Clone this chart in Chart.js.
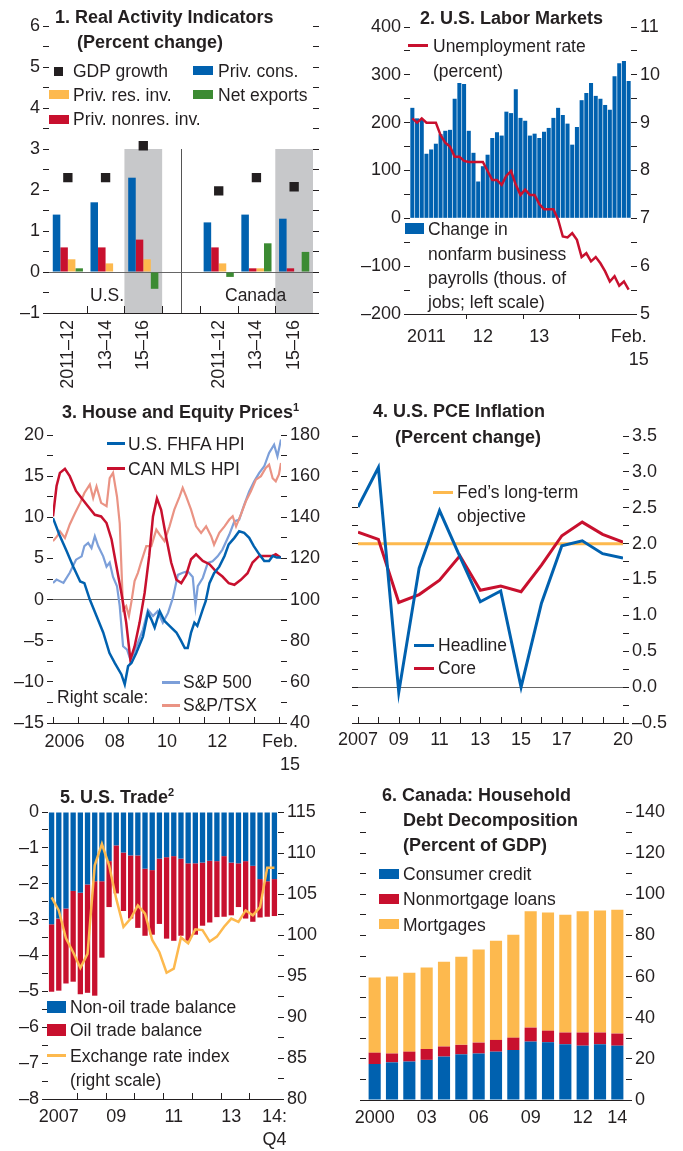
<!DOCTYPE html>
<html>
<head>
<meta charset="utf-8">
<script src="https://cdn.jsdelivr.net/npm/chart.js@4.4.1/dist/chart.umd.min.js"></script>
<style>
  body { margin: 0; background: #fff; width: 683px; height: 1151px; position: relative; overflow: hidden;
         font-family: "Liberation Sans", Arial, sans-serif; color: #231f20; }
  canvas { position: absolute; }
  .t { position: absolute; white-space: nowrap; font-size: 17.5px; line-height: 24px; }
  .b { font-weight: bold; font-size: 18px; }
  .sw { position: absolute; }
  .sup { font-size: 11px; position: relative; top: -7px; }
</style>
</head>
<body>
<canvas id="c1" width="341" height="390" style="left:0;top:0"></canvas>
<canvas id="c2" width="342" height="390" style="left:341px;top:0"></canvas>
<canvas id="c3" width="341" height="385" style="left:0;top:390px"></canvas>
<canvas id="c4" width="363" height="385" style="left:320px;top:390px"></canvas>
<canvas id="c5" width="341" height="376" style="left:0;top:775px"></canvas>
<canvas id="c6" width="342" height="376" style="left:341px;top:775px"></canvas>

<!-- panel 1 -->
<div class="t b" style="left:55px;top:5px">1. Real Activity Indicators</div>
<div class="t b" style="left:77px;top:30px">(Percent change)</div>
<div class="sw" style="left:54px;top:67px;width:9px;height:9px;background:#231f20"></div>
<div class="t" style="left:73px;top:59px">GDP growth</div>
<div class="sw" style="left:193px;top:66px;width:20px;height:9px;background:#0061af"></div>
<div class="t" style="left:218px;top:59px">Priv. cons.</div>
<div class="sw" style="left:49px;top:90px;width:20px;height:9px;background:#fdb94e"></div>
<div class="t" style="left:73px;top:83px">Priv. res. inv.</div>
<div class="sw" style="left:193px;top:90px;width:20px;height:9px;background:#3c8b33"></div>
<div class="t" style="left:218px;top:83px">Net exports</div>
<div class="sw" style="left:49px;top:115px;width:20px;height:9px;background:#c8102e"></div>
<div class="t" style="left:73px;top:107px">Priv. nonres. inv.</div>
<div class="t" style="left:90px;top:283px">U.S.</div>
<div class="t" style="left:225px;top:283px">Canada</div>

<!-- panel 2 -->
<div class="t b" style="left:420px;top:6px">2. U.S. Labor Markets</div>
<div class="sw" style="left:408px;top:44px;width:20px;height:3px;background:#c8102e"></div>
<div class="t" style="left:433px;top:34px">Unemployment rate</div>
<div class="t" style="left:433px;top:59px">(percent)</div>
<div class="sw" style="left:405px;top:223px;width:19px;height:11px;background:#0061af"></div>
<div class="t" style="left:428px;top:217px">Change in</div>
<div class="t" style="left:428px;top:242px">nonfarm business</div>
<div class="t" style="left:428px;top:266px">payrolls (thous. of</div>
<div class="t" style="left:428px;top:290px">jobs; left scale)</div>

<!-- panel 3 -->
<div class="t b" style="left:62px;top:400px">3. House and Equity Prices<span class="sup">1</span></div>
<div class="sw" style="left:107px;top:442px;width:18px;height:3px;background:#0061af"></div>
<div class="t" style="left:128px;top:432px">U.S. FHFA HPI</div>
<div class="sw" style="left:107px;top:467px;width:18px;height:3px;background:#c8102e"></div>
<div class="t" style="left:128px;top:457px">CAN MLS HPI</div>
<div class="t" style="left:57px;top:685px">Right scale:</div>
<div class="sw" style="left:162px;top:681px;width:18px;height:3px;background:#7c9fd9"></div>
<div class="t" style="left:183px;top:670px">S&amp;P 500</div>
<div class="sw" style="left:162px;top:704px;width:18px;height:3px;background:#ea9384"></div>
<div class="t" style="left:183px;top:693px">S&amp;P/TSX</div>

<!-- panel 4 -->
<div class="t b" style="left:373px;top:399px">4. U.S. PCE Inflation</div>
<div class="t b" style="left:395px;top:425px">(Percent change)</div>
<div class="sw" style="left:433px;top:491px;width:20px;height:3px;background:#fdb94e"></div>
<div class="t" style="left:457px;top:480px">Fed’s long-term</div>
<div class="t" style="left:457px;top:504px">objective</div>
<div class="sw" style="left:414px;top:644px;width:20px;height:3px;background:#0061af"></div>
<div class="t" style="left:438px;top:633px">Headline</div>
<div class="sw" style="left:414px;top:667px;width:20px;height:3px;background:#c8102e"></div>
<div class="t" style="left:438px;top:656px">Core</div>

<!-- panel 5 -->
<div class="t b" style="left:60px;top:785px">5. U.S. Trade<span class="sup">2</span></div>
<div class="sw" style="left:47px;top:1001px;width:19px;height:12px;background:#0061af"></div>
<div class="t" style="left:70px;top:995px">Non-oil trade balance</div>
<div class="sw" style="left:47px;top:1024px;width:19px;height:12px;background:#c8102e"></div>
<div class="t" style="left:70px;top:1018px">Oil trade balance</div>
<div class="sw" style="left:47px;top:1054px;width:19px;height:3px;background:#fdb94e"></div>
<div class="t" style="left:70px;top:1044px">Exchange rate index</div>
<div class="t" style="left:70px;top:1068px">(right scale)</div>

<!-- panel 6 -->
<div class="t b" style="left:382px;top:783px">6. Canada: Household</div>
<div class="t b" style="left:403px;top:808px">Debt Decomposition</div>
<div class="t b" style="left:403px;top:833px">(Percent of GDP)</div>
<div class="sw" style="left:379px;top:869px;width:20px;height:10px;background:#0061af"></div>
<div class="t" style="left:403px;top:862px">Consumer credit</div>
<div class="sw" style="left:379px;top:894px;width:20px;height:10px;background:#c8102e"></div>
<div class="t" style="left:403px;top:887px">Nonmortgage loans</div>
<div class="sw" style="left:379px;top:919px;width:20px;height:10px;background:#fdb94e"></div>
<div class="t" style="left:403px;top:913px">Mortgages</div>

<script>
// ---- data ----
// 1. Real activity
const p1Cats = ['2011–12', '13–14', '15–16', '', '2011–12', '13–14', '15–16'];
const p1Gdp = [2.3, 2.3, 3.08, null, 1.98, 2.3, 2.08];
const p1Cons = [1.4, 1.7, 2.3, null, 1.21, 1.4, 1.3];
const p1NonRes = [0.6, 0.6, 0.79, null, 0.6, 0.09, 0.09];
const p1Res = [0.31, 0.21, 0.31, null, 0.21, 0.09, 0];
const p1NetExp = [0.09, 0, -0.41, null, -0.12, 0.7, 0.49];

// 2. Labor markets, monthly from Jan 2011
const p2Payrolls = [231, 209, 207, 135, 144, 156, 176, 183, 185, 250, 283, 281, 183, 137, 77, 109, 133, 168, 180, 173,
  223, 220, 270, 210, 204, 173, 177, 168, 181, 189, 210, 231, 216, 198, 154, 191, 247, 262, 283, 256,
  250, 237, 227, 297, 324, 329, 287];
const p2Unemp = [9.09, 9.0, 9.09, 9.0, 9.0, 9.0, 8.74, 8.58, 8.5, 8.29, 8.29, 8.2, 8.18, 8.18, 8.18, 8.18, 7.99, 7.8, 7.8, 7.7,
  7.89, 7.99, 7.7, 7.49, 7.6, 7.49, 7.49, 7.3, 7.19, 7.19, 7.19, 6.97, 6.62, 6.6, 6.69, 6.55, 6.19, 6.27, 6.1, 6.19,
  6.06, 5.89, 5.68, 5.79, 5.59, 5.68, 5.51];
const p2TickLabels = { 3: '2011', 15: '12', 27: '13', 46: ['Feb.', '    15'] };
const p2YearTicks = [11.5, 23.5, 35.5];

// 3. House and equity prices (x = months since Jan 2006)
const fhfaM = [0, 3, 6.5, 9.7, 13, 15, 17.6, 20.8, 24, 27, 29.5, 32.7, 34.3, 35.9, 37.5, 39.8, 43, 45.4, 47, 48.6, 51, 53.3,
  55.7, 59, 61, 63, 64.4, 66, 67.6, 69, 71.6, 73, 74.8, 77, 79.5, 82, 84, 86.7, 89, 91.4, 93.8, 96, 98.6, 101, 103.3, 105, 107, 109];
const fhfaV = [9.9, 7.9, 5.9, 4.0, 2.2, 2.0, 0, -2, -4, -6.5, -7.7, -9.1, -10.3, -8.1, -7.7, -6.5, -4.5, -1.6, -2.4, -3.4, -1.4, -2.6,
  -3.2, -4.0, -4.9, -5.9, -5.9, -4.0, -2.8, -3.2, -1.2, -0.2, 2.0, 3.2, 4.0, 5.3, 6.7, 7.5, 8.3, 8.1, 7.5, 6.5, 5.5, 4.7, 4.7, 5.3, 5.1, 5.1];
const mlsM = [0, 1.7, 3.3, 5.7, 8, 11, 13.7, 16.8, 20, 23, 25.6, 28, 30, 32.7, 35, 37, 39, 41.4, 43.8, 46, 47.8, 49.7, 51.7, 54,
  56.5, 59, 61.3, 63.7, 66, 68.4, 71.6, 74.8, 78, 81, 84, 86.7, 89.8, 93, 95.4, 98.6, 101.7, 105, 106.5, 109];
const mlsV = [10.1, 13.8, 15.4, 15.9, 15.0, 13.2, 12.3, 11.3, 10.3, 10.1, 9.3, 7.3, 4.5, 0.8, -2.8, -7.3, -5.7, -2.8, 0.8, 5.3, 10.1, 12.3, 10.9, 7.7,
  4.5, 2.4, 2.0, 3.0, 4.9, 5.5, 4.7, 4.3, 3.4, 2.8, 2.0, 1.8, 2.4, 3.2, 4.5, 5.3, 5.3, 5.3, 5.5, 5.1];
const sp500M = [0, 1.7, 5, 8, 11, 13.7, 15, 16.8, 18.4, 20, 21.6, 24, 25.6, 27.1, 28.7, 30.6, 31.9, 33.5, 35.4, 37, 38.6, 40.6, 43, 45.4,
  47.8, 50, 52.5, 55, 57.3, 59.7, 62, 64.4, 66.8, 68.1, 69.2, 71.6, 74, 76.3, 78.7, 81, 84.3, 86.7, 89, 91.4, 93.8, 96.2, 98.6, 101, 103.3, 105.7, 107.3, 109];
const sp500V = [108.1, 109.7, 108.1, 113, 119.4, 121, 126, 127.5, 125, 130.8, 126, 121, 116, 118, 111, 106.5, 96.8, 77.3, 75.7, 70.8, 74, 79, 85.4, 95,
  92, 94.3, 88.7, 93.5, 100.8, 112, 113, 113.8, 111, 96.8, 106.5, 110.5, 117.8, 118.6, 121, 124.3, 131.6, 138, 138.9, 146, 152.6, 157.5, 161.6, 164.8, 171.3, 175.3, 169.7, 177.8];
const tsxM = [0, 2, 3.3, 5.7, 8, 10.5, 13, 15, 17.6, 19.2, 20.8, 23, 25.6, 27.1, 28.7, 30.6, 31.9, 33.5, 35, 36.3, 37.5, 39, 40.6, 42, 44.6, 47,
  49.4, 51, 53.3, 55.7, 58, 60.5, 62, 63.7, 66, 68.4, 70.8, 73.2, 75.6, 77, 79.5, 82, 84.3, 85.9, 87.5, 89.8, 92.2, 94.6, 97, 99.4, 101.7, 103.3, 105, 106.5, 108, 109];
const tsxV = [128.4, 130.8, 133.2, 130, 136.5, 142, 147, 151.8, 155.9, 149.4, 155, 147, 145.4, 159, 161.6, 150, 137, 95, 96.8, 92, 99, 109, 113, 117.8, 126, 126,
  134, 131.6, 128.4, 135.6, 143.7, 150, 154.3, 150, 143.7, 135.6, 132.4, 135.6, 130.8, 126.7, 132.4, 135.6, 138.9, 140.5, 135.6, 141.3, 147.8, 152.6, 158.3, 160, 164, 165.6, 159, 157.5, 160.8, 166.4];
const p3TickPos = [5.5, 29.5, 54.5, 78.5, 108.5];
const p3TickLabels = ['2006', '08', '10', '12', ['Feb.', '    15']];
const p3YearTicks = [0, 12, 24, 36, 48, 60, 72, 84, 96, 108];

// 4. PCE inflation
const p4Years = [2007, 2008, 2009, 2010, 2011, 2012, 2013, 2014, 2015, 2016, 2017, 2018, 2019, 2020];
const p4Headline = [2.51, 3.06, -0.07, 1.66, 2.46, 1.82, 1.19, 1.34, 0.0, 1.17, 1.97, 2.04, 1.86, 1.80];
const p4Core = [2.16, 2.06, 1.18, 1.29, 1.49, 1.83, 1.35, 1.41, 1.33, 1.70, 2.11, 2.30, 2.13, 2.02];
const p4FedYears = [2007, 2020];
const p4FedVals = [2.0, 2.0];
const p4TickPos = [2007, 2009, 2011, 2013, 2015, 2017, 2020];
const p4TickLabels = ['2007', '09', '11', '13', '15', '17', '20'];

// 5. U.S. trade, quarterly 2007Q1-2014Q4
const p5NonOil = [-3.13, -2.97, -2.69, -2.20, -2.25, -2.02, -1.93, -1.93, -1.37, -0.93, -1.13, -1.21, -1.21, -1.58, -1.62, -1.30,
  -1.26, -1.23, -1.30, -1.43, -1.43, -1.41, -1.36, -1.37, -1.23, -1.41, -1.43, -1.37, -1.50, -1.87, -1.93, -1.87];
const p5Oil = [-1.88, -2.01, -2.09, -2.53, -2.83, -3.02, -3.19, -2.13, -1.28, -1.34, -1.63, -1.76, -2.02, -1.87, -1.80, -1.82,
  -2.27, -2.36, -2.15, -2.16, -1.99, -1.76, -1.72, -1.56, -1.69, -1.47, -1.22, -1.60, -1.56, -1.07, -0.99, -1.03];
const p5Fx = [104.6, 103.0, 99.6, 97.9, 96.0, 97.7, 108.5, 111.1, 108.5, 104.4, 101.0, 102.0, 103.6, 102.6, 99.4, 97.9,
  95.4, 95.9, 99.7, 99.0, 100.7, 100.6, 99.2, 99.8, 101.0, 102.0, 101.6, 103.0, 102.4, 103.4, 108.2, 108.2];
const p5TickLabels = { 1: '2007', 9: '09', 17: '11', 25: '13', 31: ['14:', 'Q4'] };
const p5YearTicks = [3.5, 7.5, 11.5, 15.5, 19.5, 23.5, 27.5];

// 6. Canada household debt, 2000-2014
const p6Years = ['2000', '01', '02', '03', '04', '05', '06', '07', '08', '09', '10', '11', '12', '13', '14'];
const p6Consumer = [17.5, 18.3, 18.7, 19.5, 21.1, 22.2, 22.6, 23.5, 24.3, 28.4, 28.1, 27.1, 26.4, 27.1, 26.4];
const p6NonMort = [5.5, 4.3, 4.8, 5.3, 4.9, 4.6, 5.3, 5.7, 6.0, 6.8, 5.6, 5.7, 6.4, 5.7, 5.9];
const p6Mort = [36.5, 37.4, 38.3, 39.6, 41.2, 42.8, 45.3, 48.2, 50.0, 56.5, 57.5, 57.2, 58.9, 59.3, 60.2];
const p6Shown = ['2000', '03', '06', '09', '12', '14'];

// ---- style ----
const DARK = '#231f20', BLUE = '#0061af', RED = '#c8102e', YEL = '#fdb94e', GRN = '#3c8b33';
const GREY = '#c7c8ca', LBLUE = '#7c9fd9', SALMON = '#ea9384';
const FONT = '"Liberation Sans", Arial, sans-serif';
Chart.defaults.font.family = FONT;
Chart.defaults.font.size = 18;
Chart.defaults.color = DARK;
Chart.defaults.animation = false;
Chart.defaults.responsive = false;
Chart.defaults.plugins.legend.display = false;
Chart.defaults.plugins.tooltip.enabled = false;

const fmt = v => String(v).replace('-', '\u2013');
const near = (v, s) => Math.abs(v / s - Math.round(v / s)) < 1e-6;

// decorations drawn from the scales: grey bands, separator, inward tick marks
Chart.register({
  id: 'decor',
  beforeDraw(chart, args, o) {
    const ctx = chart.ctx, x = chart.scales.x, y = chart.scales.y;
    if (o.bands) {
      ctx.save();
      ctx.fillStyle = GREY;
      const t = y.getPixelForValue(o.bandTop), b = y.getPixelForValue(o.bandBottom);
      o.bands.forEach(i => {
        const l = x.getPixelForValue(i - 0.5), r = x.getPixelForValue(i + 0.5);
        ctx.fillRect(l, t, r - l, b - t);
      });
      if (o.sep != null) {
        const px = Math.round(x.getPixelForValue(o.sep)) + 0.5;
        ctx.strokeStyle = '#555';
        ctx.lineWidth = 1;
        ctx.beginPath(); ctx.moveTo(px, t); ctx.lineTo(px, b); ctx.stroke();
      }
      ctx.restore();
    }
  },
  afterDraw(chart, args, o) {
    if (!o.ticks) return;
    const ctx = chart.ctx, x = chart.scales.x, bottom = chart.chartArea.bottom;
    ctx.save();
    ctx.strokeStyle = DARK;
    ctx.lineWidth = 1;
    o.ticks.forEach(v => {
      const px = Math.round(x.getPixelForValue(v)) + 0.5;
      ctx.beginPath(); ctx.moveTo(px, bottom); ctx.lineTo(px, bottom + o.len); ctx.stroke();
    });
    ctx.restore();
  }
});

function yAxis(pos, min, max, step, width, label, zero) {
  return {
    type: 'linear', position: pos, min, max,
    afterFit: s => { s.width = width; },
    border: { display: false },
    grid: {
      drawOnChartArea: zero != null,
      color: c => (zero != null && c.tick && Math.abs(c.tick.value - zero) < 1e-9) ? '#666' : 'rgba(0,0,0,0)',
      tickColor: DARK, tickLength: 6
    },
    ticks: { stepSize: step, autoSkip: false, padding: 3, callback: label }
  };
}
function xBorder(height, padding) {
  return {
    afterFit: s => { s.height = height; },
    border: { display: true, color: DARK, width: 1 },
    grid: { drawOnChartArea: false, drawTicks: false },
    ticks: { autoSkip: false, maxRotation: 0, padding: padding, font: { size: 18, lineHeight: 1.25 } }
  };
}

// ---- 1 ----
new Chart(document.getElementById('c1'), {
  type: 'bar',
  data: {
    labels: p1Cats,
    datasets: [
      { type: 'line', data: p1Gdp, showLine: false, pointStyle: 'rect', pointRadius: 6.6, backgroundColor: DARK, borderColor: DARK, borderWidth: 0, order: 0 },
      { data: p1Cons, backgroundColor: BLUE, order: 1 },
      { data: p1NonRes, backgroundColor: RED, order: 1 },
      { data: p1Res, backgroundColor: YEL, order: 1 },
      { data: p1NetExp, backgroundColor: GRN, order: 1 }
    ]
  },
  options: {
    layout: { padding: { top: 26, left: 0, right: 0, bottom: 0 } },
    datasets: { bar: { categoryPercentage: 0.8, barPercentage: 1 } },
    scales: {
      x: Object.assign(xBorder(77, 7), { ticks: { autoSkip: false, minRotation: 90, maxRotation: 90, padding: 7 } }),
      y: yAxis('left', -1, 6, 0.5, 49, v => near(v, 1) ? fmt(v) : '', 0),
      y2: yAxis('right', -1, 6, 0.5, 28, () => '')
    },
    plugins: { decor: { bands: [2, 6], bandTop: 3, bandBottom: -1, sep: 3, ticks: [0.5, 1.5, 2.5, 3.5, 4.5, 5.5], len: -7 } }
  }
});

// ---- 2 ----
new Chart(document.getElementById('c2'), {
  type: 'bar',
  data: {
    labels: p2Payrolls.map((_, i) => i),
    datasets: [
      { type: 'line', data: p2Unemp, yAxisID: 'y2', borderColor: RED, borderWidth: 2.5, pointRadius: 0, tension: 0, order: 0 },
      { data: p2Payrolls, yAxisID: 'y', backgroundColor: BLUE, categoryPercentage: 1, barPercentage: 0.86, order: 1 }
    ]
  },
  options: {
    layout: { padding: { top: 27, left: 0, right: 0, bottom: 0 } },
    scales: {
      x: Object.assign(xBorder(76, 12), {
        ticks: { autoSkip: false, maxRotation: 0, padding: 12, font: { size: 18, lineHeight: 1.25 },
                 callback: (v, i) => p2TickLabels[i] || '' }
      }),
      y: yAxis('left', -200, 400, 50, 69, v => near(v, 100) ? fmt(v) : ''),
      y2: yAxis('right', 5, 11, 0.5, 52, v => near(v, 1) ? fmt(v) : '')
    },
    plugins: { decor: { ticks: p2YearTicks, len: 5 } }
  }
});

// ---- 3 ----
const pts = (xs, ys) => xs.map((x, i) => ({ x, y: ys[i] }));
new Chart(document.getElementById('c3'), {
  type: 'line',
  data: {
    datasets: [
      { data: pts(sp500M, sp500V), yAxisID: 'y2', borderColor: LBLUE, borderWidth: 2.2, pointRadius: 0, order: 3 },
      { data: pts(tsxM, tsxV), yAxisID: 'y2', borderColor: SALMON, borderWidth: 2.2, pointRadius: 0, order: 2 },
      { data: pts(mlsM, mlsV), yAxisID: 'y', borderColor: RED, borderWidth: 2.5, pointRadius: 0, order: 1 },
      { data: pts(fhfaM, fhfaV), yAxisID: 'y', borderColor: BLUE, borderWidth: 2.5, pointRadius: 0, order: 0 }
    ]
  },
  options: {
    layout: { padding: { top: 45, left: 0, right: 0, bottom: 0 } },
    scales: {
      x: Object.assign(xBorder(52, 8), {
        type: 'linear', min: 0, max: 109,
        afterBuildTicks: s => { s.ticks = p3TickPos.map(v => ({ value: v })); },
        ticks: { autoSkip: false, maxRotation: 0, padding: 8, font: { size: 18, lineHeight: 1.25 },
                 callback: (v, i) => p3TickLabels[i] }
      }),
      y: yAxis('left', -15, 20, 2.5, 53, v => near(v, 5) ? fmt(v) : '', 0),
      y2: yAxis('right', 40, 180, 10, 60, v => near(v, 20) ? fmt(v) : '')
    },
    plugins: { decor: { ticks: p3YearTicks, len: -6 } }
  }
});

// ---- 4 ----
new Chart(document.getElementById('c4'), {
  type: 'line',
  data: {
    datasets: [
      { data: pts(p4FedYears, p4FedVals), yAxisID: 'y2', borderColor: YEL, borderWidth: 3, pointRadius: 0, order: 2 },
      { data: pts(p4Years, p4Core), yAxisID: 'y2', borderColor: RED, borderWidth: 3, pointRadius: 0, order: 1 },
      { data: pts(p4Years, p4Headline), yAxisID: 'y2', borderColor: BLUE, borderWidth: 3, pointRadius: 0, order: 0 }
    ]
  },
  options: {
    layout: { padding: { top: 46, left: 0, right: 0, bottom: 0 } },
    scales: {
      x: Object.assign(xBorder(52, 6), {
        type: 'linear', min: 2007, max: 2020,
        afterBuildTicks: s => { s.ticks = p4TickPos.map(v => ({ value: v })); },
        ticks: { autoSkip: false, maxRotation: 0, padding: 6, callback: (v, i) => p4TickLabels[i] }
      }),
      y: yAxis('left', -0.5, 3.5, 0.25, 38, () => ''),
      y2: yAxis('right', -0.5, 3.5, 0.25, 60, v => near(v, 0.5) ? fmt(v.toFixed(1)) : '', 0)
    },
    plugins: { decor: { ticks: p4Years, len: -6 } }
  }
});

// ---- 5 ----
new Chart(document.getElementById('c5'), {
  type: 'bar',
  data: {
    labels: p5NonOil.map((_, i) => i),
    datasets: [
      { type: 'line', data: p5Fx, yAxisID: 'y2', borderColor: YEL, borderWidth: 2.5, pointRadius: 0, tension: 0, order: 0 },
      { data: p5NonOil, yAxisID: 'y', backgroundColor: BLUE, stack: 's', order: 1 },
      { data: p5Oil, yAxisID: 'y', backgroundColor: RED, stack: 's', order: 1 }
    ]
  },
  options: {
    layout: { padding: { top: 37, left: 0, right: 0, bottom: 0 } },
    datasets: { bar: { categoryPercentage: 1, barPercentage: 0.74 } },
    scales: {
      x: Object.assign(xBorder(52, 7), {
        stacked: true,
        ticks: { autoSkip: false, maxRotation: 0, padding: 7, font: { size: 18, lineHeight: 1.25 },
                 callback: (v, i) => p5TickLabels[i] || '' }
      }),
      y: Object.assign(yAxis('left', -8, 0, 0.5, 48, v => near(v, 1) ? fmt(v) : ''), { stacked: true }),
      y2: yAxis('right', 80, 115, 2.5, 63, v => near(v, 5) ? fmt(v) : '')
    },
    plugins: { decor: { ticks: p5YearTicks, len: -6 } }
  }
});

// ---- 6 ----
new Chart(document.getElementById('c6'), {
  type: 'bar',
  data: {
    labels: p6Years,
    datasets: [
      { data: p6Consumer, yAxisID: 'y2', backgroundColor: BLUE, stack: 's' },
      { data: p6NonMort, yAxisID: 'y2', backgroundColor: RED, stack: 's' },
      { data: p6Mort, yAxisID: 'y2', backgroundColor: YEL, stack: 's' }
    ]
  },
  options: {
    layout: { padding: { top: 37, left: 0, right: 0, bottom: 0 } },
    datasets: { bar: { categoryPercentage: 1, barPercentage: 0.7 } },
    scales: {
      x: Object.assign(xBorder(51, 7), {
        stacked: true,
        ticks: { autoSkip: false, maxRotation: 0, padding: 7,
                 callback: (v, i) => p6Shown.includes(p6Years[i]) ? p6Years[i] : '' }
      }),
      y: yAxis('left', 0, 140, 10, 25, () => ''),
      y2: Object.assign(yAxis('right', 0, 140, 10, 57, v => near(v, 20) ? fmt(v) : ''), { stacked: true })
    }
  }
});
</script>
</body>
</html>
